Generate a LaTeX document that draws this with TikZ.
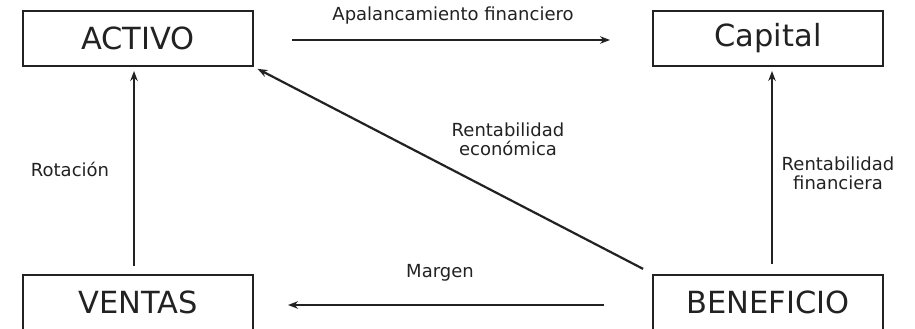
\documentclass[tikz,border=0pt]{standalone}
\usepackage{fontspec}
\setmainfont{DejaVu Sans}
\usetikzlibrary{arrows.meta,positioning}
\definecolor{ink}{HTML}{222222}
\tikzset{
  ratiobox/.style={draw=ink, line width=2pt, minimum width=230pt, minimum height=55pt,
    inner sep=0pt, text=ink, font=\fontsize{30.5}{32}\selectfont},
  arr/.style={-{Stealth[length=10pt,width=7.5pt]}, line width=2.2pt, draw=ink},
  lbl/.style={text=ink, align=center, font=\fontsize{18}{19}\selectfont}
}
\begin{document}
\begin{tikzpicture}[x=1pt,y=-1pt]
  \useasboundingbox (0,0) rectangle (915,329);
  % boxes
  \node[ratiobox] (activo) at (138,38.5) {\raisebox{-3pt}{ACTIVO}};
  \node[ratiobox] (capital) at (768,38.5) {\raisebox{-3pt}{Capital}};
  \node[ratiobox] (ventas) at (138,302) {\raisebox{-3pt}{VENTAS}};
  \node[ratiobox] (beneficio) at (768,302) {\raisebox{-3pt}{BENEFICIO}};
  % connectors
  \draw[arr, shorten <=38pt, shorten >=42pt] (activo.east) ++(0,1.5) coordinate (aE) (aE) -- (aE -| capital.west);
  \draw[arr, shorten <=8pt, shorten >=4pt] ([xshift=-4pt]ventas.north) -- ([xshift=-4pt]activo.south);
  \draw[arr, shorten <=10pt, shorten >=4pt] ([xshift=4pt]beneficio.north) -- ([xshift=4pt]capital.south);
  \draw[arr, shorten <=48pt, shorten >=34pt] (beneficio.west) ++(0,3) coordinate (bW) (bW) -- (bW -| ventas.east);
  \draw[arr, shorten <=10pt, shorten >=4pt] (beneficio.north west) -- (activo.south east);
  % labels
  \node[lbl] (apal) at (453,16) {Apalancamiento financiero};
  \node[lbl] (rot) at (70,169) {Rotación};
  \node[lbl] (reco) at (508,139) {Rentabilidad\\económica};
  \node[lbl] (rfin) at (838,173) {Rentabilidad\\financiera};
  \node[lbl] (marg) at (440,273) {Margen};
\end{tikzpicture}
\end{document}
